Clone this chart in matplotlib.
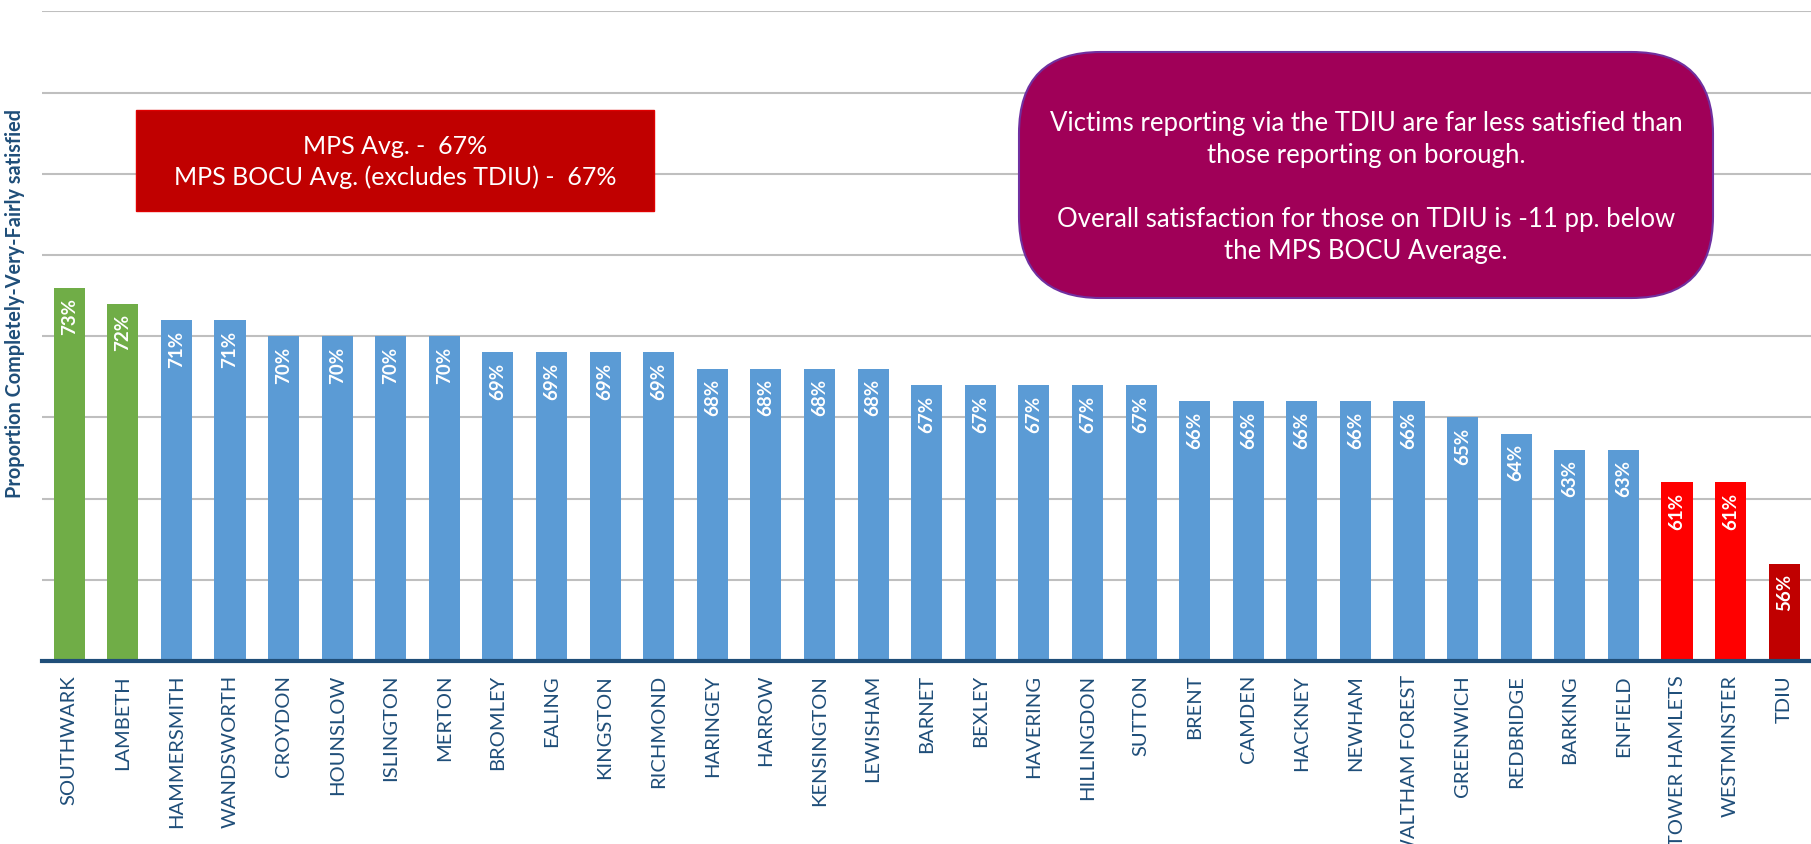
import matplotlib.pyplot as plt
from matplotlib.patches import FancyBboxPatch

# Satisfaction by borough (%)
boroughs = ['SOUTHWARK', 'LAMBETH', 'HAMMERSMITH', 'WANDSWORTH', 'CROYDON', 'HOUNSLOW',
            'ISLINGTON', 'MERTON', 'BROMLEY', 'EALING', 'KINGSTON', 'RICHMOND',
            'HARINGEY', 'HARROW', 'KENSINGTON', 'LEWISHAM', 'BARNET', 'BEXLEY',
            'HAVERING', 'HILLINGDON', 'SUTTON', 'BRENT', 'CAMDEN', 'HACKNEY',
            'NEWHAM', 'WALTHAM FOREST', 'GREENWICH', 'REDBRIDGE', 'BARKING',
            'ENFIELD', 'TOWER HAMLETS', 'WESTMINSTER', 'TDIU']
values = [73, 72, 71, 71, 70, 70, 70, 70, 69, 69, 69, 69, 68, 68, 68, 68, 67, 67,
          67, 67, 67, 66, 66, 66, 66, 66, 65, 64, 63, 63, 61, 61, 56]
groups = ['top'] * 2 + ['mid'] * 28 + ['low'] * 2 + ['tdiu']

colours = {'top': '#70AD47', 'mid': '#5B9BD5', 'low': '#FF0000', 'tdiu': '#C00000'}
navy = '#1F4E79'

plt.rcParams['font.family'] = ['Lato', 'DejaVu Sans']

fig = plt.figure(figsize=(18.11, 8.44), dpi=100)
ax = fig.add_axes([0.0234, 0.2168, 0.9766, 0.7696])

x = list(range(len(boroughs)))
bars = ax.bar(x, values, width=0.58, color=[colours[g] for g in groups], zorder=3)

for b, v in zip(bars, values):
    ax.text(b.get_x() + b.get_width() / 2, v - 0.65, f'{v}%', rotation=90,
            ha='center', va='top', color='white', fontsize=13.5, fontweight='bold',
            zorder=4)

ax.set_xlim(-0.5, len(boroughs) - 0.5)
ax.set_ylim(50, 90)
ax.set_yticks(range(50, 91, 5))
ax.yaxis.grid(True, color='#BFBFBF', linewidth=1.5, zorder=0)
ax.tick_params(axis='y', left=False, labelleft=False)
ax.tick_params(axis='x', length=0, pad=10)
ax.set_xticks(x)
ax.set_xticklabels(boroughs, rotation=90, fontsize=14.5, color=navy)

for side in ['top', 'right', 'left']:
    ax.spines[side].set_visible(False)
ax.spines['bottom'].set_color(navy)
ax.spines['bottom'].set_linewidth(3)
ax.spines['bottom'].set_zorder(5)

fig.text(0.0085, 0.64, 'Proportion Completely-Very-Fairly satisfied', rotation=90,
         ha='center', va='center', fontsize=14.3, fontweight='bold', color=navy)

# Averages box
fig.patches.append(plt.Rectangle((136 / 1811, 1 - 211 / 844), 518 / 1811, 101 / 844,
                                 transform=fig.transFigure, facecolor='#C00000',
                                 edgecolor='#E00000', linewidth=1))
fig.text(395 / 1811, 1 - 162 / 844,
         'MPS Avg. -  67%\nMPS BOCU Avg. (excludes TDIU) -  67%',
         ha='center', va='center', color='white', fontsize=18, linespacing=1.4)

# Call-out box
fig.patches.append(FancyBboxPatch((1019 / 1811, 1 - 298 / 844), 694 / 1811, 246 / 844,
                                  boxstyle='round,pad=0,rounding_size=0.045',
                                  mutation_aspect=1811 / 844,
                                  transform=fig.transFigure, facecolor='#A00058',
                                  edgecolor='#7030A0', linewidth=1.5))
fig.text(1366 / 1811, 1 - 187 / 844,
         'Victims reporting via the TDIU are far less satisfied than\n'
         'those reporting on borough.\n\n'
         'Overall satisfaction for those on TDIU is -11 pp. below\n'
         'the MPS BOCU Average.',
         ha='center', va='center', color='white', fontsize=18.5, linespacing=1.35)

fig.savefig('out.png', dpi=100)
